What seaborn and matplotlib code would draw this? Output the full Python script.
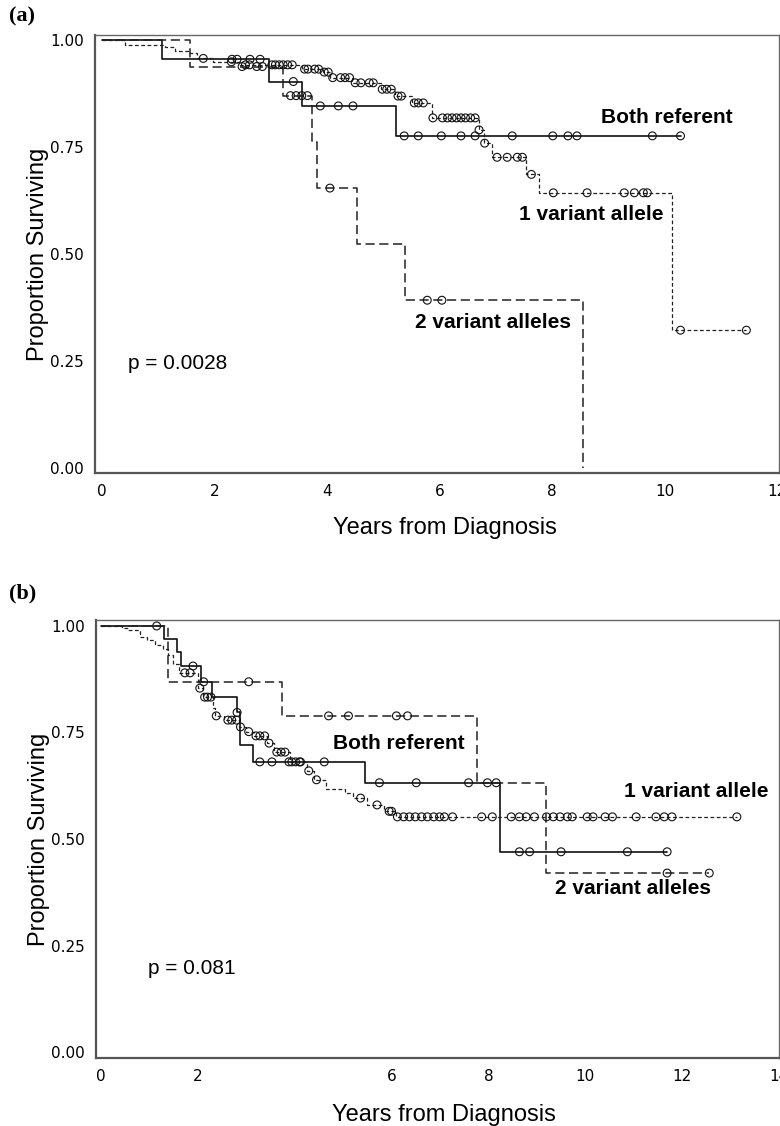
import numpy as np
import matplotlib
matplotlib.use("Agg")
import matplotlib.pyplot as plt
import seaborn as sns

# ---------------------------
# Data
# (event times, survival after each drop, censor times, end of follow-up)
# ---------------------------
# panel (a)
a_ref_t = [1.06, 2.97, 3.56, 5.23]
a_ref_s = [0.955, 0.903, 0.846, 0.776]
a_ref_c = [2.31, 2.40, 2.63, 2.81, 3.40, 3.88, 4.20, 4.46, 5.37, 5.62, 6.03,
           6.38, 6.63, 7.29, 8.01, 8.28, 8.44, 9.78, 10.28]
a_ref_end = 10.28

a_v1_t = [0.41, 1.12, 1.30, 1.56, 1.69, 1.97, 2.45, 3.55, 3.92, 4.05, 4.45,
          4.95, 5.20, 5.50, 5.86, 6.70, 6.78, 6.93, 7.53, 7.77, 10.13]
a_v1_s = [0.988, 0.984, 0.975, 0.970, 0.957, 0.949, 0.942, 0.932, 0.925, 0.912,
          0.900, 0.885, 0.869, 0.853, 0.818, 0.790, 0.759, 0.726, 0.686, 0.643, 0.322]
a_v1_c = [1.80, 2.30, 2.55, 2.62, 3.02, 3.08, 3.15, 3.22, 3.30, 3.38, 3.60, 3.66,
          3.78, 3.85, 3.95, 4.02, 4.10, 4.24, 4.32, 4.40, 4.50, 4.60, 4.75, 4.82,
          4.98, 5.06, 5.14, 5.26, 5.32, 5.55, 5.62, 5.71, 5.88, 6.05, 6.14, 6.22,
          6.30, 6.38, 6.46, 6.55, 6.63, 6.70, 6.80, 7.02, 7.20, 7.38, 7.47, 7.63,
          8.02, 8.62, 9.28, 9.46, 9.62, 9.69, 10.28, 11.45]
a_v1_end = 11.45

a_v2_t = [1.56, 3.22, 3.73, 3.82, 4.53, 5.39, 8.55]
a_v2_s = [0.938, 0.870, 0.762, 0.654, 0.523, 0.392, 0.0]
a_v2_c = [2.49, 2.75, 2.85, 3.35, 3.45, 3.55, 3.65, 4.05, 5.78, 6.04]
a_v2_end = 8.55

# panel (b)
b_ref_t = [1.30, 1.56, 1.65, 2.06, 2.30, 2.80, 2.88, 3.14, 5.46, 8.24]
b_ref_s = [0.969, 0.940, 0.906, 0.869, 0.834, 0.797, 0.720, 0.681, 0.632, 0.470]
b_ref_c = [1.15, 1.90, 2.12, 2.81, 3.28, 3.53, 3.88, 4.12, 4.61, 5.75, 6.51,
           7.59, 7.98, 8.16, 8.64, 8.85, 9.50, 10.87, 11.69]
b_ref_end = 11.69

b_v1_t = [0.43, 0.56, 0.80, 0.94, 1.11, 1.28, 1.39, 1.49, 1.62, 2.00, 2.10, 2.31,
          2.35, 2.55, 2.85, 3.00, 3.15, 3.42, 3.58, 3.90, 4.25, 4.40, 4.65, 5.03,
          5.20, 5.50, 5.85, 6.10]
b_v1_s = [0.995, 0.990, 0.975, 0.967, 0.955, 0.947, 0.932, 0.910, 0.890, 0.854,
          0.833, 0.807, 0.789, 0.779, 0.763, 0.752, 0.742, 0.725, 0.704, 0.681,
          0.660, 0.639, 0.617, 0.609, 0.596, 0.580, 0.565, 0.552]
b_v1_c = [1.73, 1.84, 2.04, 2.14, 2.20, 2.27, 2.38, 2.62, 2.70, 2.80, 2.88, 3.05,
          3.20, 3.28, 3.38, 3.47, 3.63, 3.72, 3.80, 3.94, 4.02, 4.10, 4.29, 4.45,
          5.36, 5.70, 5.95, 6.00, 6.12, 6.25, 6.37, 6.49, 6.62, 6.74, 6.87, 6.99,
          7.09, 7.26, 7.86, 8.08, 8.47, 8.64, 8.78, 8.95, 9.20, 9.34, 9.48, 9.63,
          9.73, 10.04, 10.16, 10.41, 10.56, 11.05, 11.46, 11.63, 11.79, 13.13]
b_v1_end = 13.13

b_v2_t = [1.39, 3.73, 7.77, 9.18]
b_v2_s = [0.869, 0.789, 0.632, 0.420]
b_v2_c = [3.05, 4.70, 5.11, 6.10, 6.33, 11.69, 12.56]
b_v2_end = 12.56

y_ticks = [0.0, 0.25, 0.5, 0.75, 1.0]
y_ticklabels = ["0.00", "0.25", "0.50", "0.75", "1.00"]
a_xticks = [0, 2, 4, 6, 8, 10, 12]
a_xticklabels = ["0", "2", "4", "6", "8", "10", "12"]
b_xticks = [0, 2, 4, 6, 8, 10, 12, 14]
b_xticklabels = ["0", "2", "", "6", "8", "10", "12", "14"]

# ---------------------------
# Styling
# ---------------------------
sns.set_style("white")
plt.rcParams["font.family"] = ["Liberation Sans", "DejaVu Sans"]
plt.rcParams["text.color"] = "black"
plt.rcParams["axes.labelcolor"] = "black"
plt.rcParams["xtick.color"] = "black"
plt.rcParams["ytick.color"] = "black"
TICK_FONT = ["Liberation Sans Narrow", "DejaVu Sans"]

LINE_STYLES = {
    "ref": dict(color="#111111", linewidth=1.2, linestyle="-"),
    "v1": dict(color="#222222", linewidth=0.9, linestyle=(0, (3, 2))),
    "v2": dict(color="#222222", linewidth=1.1, linestyle=(0, (6, 3))),
}


def km_curve(ax, times, surv, censor, end, style):
    x = [0.0] + list(times) + [end]
    y = [1.0] + list(surv) + [surv[-1]]
    sns.lineplot(x=x, y=y, ax=ax, estimator=None, sort=False,
                 drawstyle="steps-post", **LINE_STYLES[style])
    surv_full = np.r_[1.0, surv]
    idx = np.searchsorted(times, censor, side="right")
    sns.scatterplot(x=censor, y=surv_full[idx], ax=ax, s=32, marker="o",
                    facecolor="none", edgecolor="#111111", linewidth=0.8,
                    zorder=3)


def style_axes(ax, xlim, ylim, xticks, xticklabels):
    ax.set_xlim(*xlim)
    ax.set_ylim(*ylim)
    ax.set_yticks(y_ticks)
    ax.set_yticklabels(y_ticklabels, family=TICK_FONT, fontsize=11)
    ax.set_xticks(xticks)
    ax.set_xticklabels(xticklabels, family=TICK_FONT, fontsize=11)
    ax.tick_params(direction="out", length=4, width=1, color="#555555", pad=4)
    for side in ["left", "bottom"]:
        ax.spines[side].set_linewidth(1.6)
        ax.spines[side].set_color("#555555")
    for side in ["top", "right"]:
        ax.spines[side].set_linewidth(1.0)
        ax.spines[side].set_color("#666666")
    ax.set_ylabel("Proportion Surviving", fontsize=17, va="center")
    ax.set_xlabel("Years from Diagnosis", fontsize=17, va="center")


fig = plt.figure(figsize=(7.8, 11.26), dpi=100)

# ---------------------------
# Panel (a)
# ---------------------------
ax_a = fig.add_axes([95 / 780, 1 - 473 / 1126, 684 / 780, 438 / 1126])
km_curve(ax_a, a_ref_t, a_ref_s, a_ref_c, a_ref_end, "ref")
km_curve(ax_a, a_v1_t, a_v1_s, a_v1_c, a_v1_end, "v1")
km_curve(ax_a, a_v2_t, a_v2_s, a_v2_c, a_v2_end, "v2")
style_axes(ax_a, (-0.124, 12.03), (-0.0117, 1.0117), a_xticks, a_xticklabels)
ax_a.yaxis.set_label_coords(-0.083, 0.5)
ax_a.xaxis.set_label_coords(0.512, -0.126)

ax_a.text(10.03, 0.818, "Both referent", fontsize=15, fontweight="bold",
          ha="center", va="center")
ax_a.text(8.70, 0.593, "1 variant allele", fontsize=15, fontweight="bold",
          ha="center", va="center")
ax_a.text(6.95, 0.339, "2 variant alleles", fontsize=15, fontweight="bold",
          ha="center", va="center")
ax_a.text(0.46, 0.243, "p = 0.0028", fontsize=15, ha="left", va="center")

# ---------------------------
# Panel (b)
# ---------------------------
ax_b = fig.add_axes([96 / 780, 1 - 1058 / 1126, 683 / 780, 438 / 1126])
km_curve(ax_b, b_ref_t, b_ref_s, b_ref_c, b_ref_end, "ref")
km_curve(ax_b, b_v1_t, b_v1_s, b_v1_c, b_v1_end, "v1")
km_curve(ax_b, b_v2_t, b_v2_s, b_v2_c, b_v2_end, "v2")
style_axes(ax_b, (-0.103, 14.0), (-0.014, 1.014), b_xticks, b_xticklabels)
ax_b.yaxis.set_label_coords(-0.083, 0.5)
ax_b.xaxis.set_label_coords(0.51, -0.130)

ax_b.text(6.14, 0.723, "Both referent", fontsize=15, fontweight="bold",
          ha="center", va="center")
ax_b.text(12.30, 0.611, "1 variant allele", fontsize=15, fontweight="bold",
          ha="center", va="center")
ax_b.text(10.99, 0.383, "2 variant alleles", fontsize=15, fontweight="bold",
          ha="center", va="center")
ax_b.text(0.97, 0.197, "p = 0.081", fontsize=15, ha="left", va="center")

# panel letters
fig.text(9 / 780, 1 - 16 / 1126, "(a)", family=["Liberation Serif", "DejaVu Serif"],
         fontweight="bold", fontsize=16, ha="left", va="center")
fig.text(9 / 780, 1 - 593 / 1126, "(b)", family=["Liberation Serif", "DejaVu Serif"],
         fontweight="bold", fontsize=16, ha="left", va="center")

fig.savefig("out.png", dpi=100)
plt.close(fig)
